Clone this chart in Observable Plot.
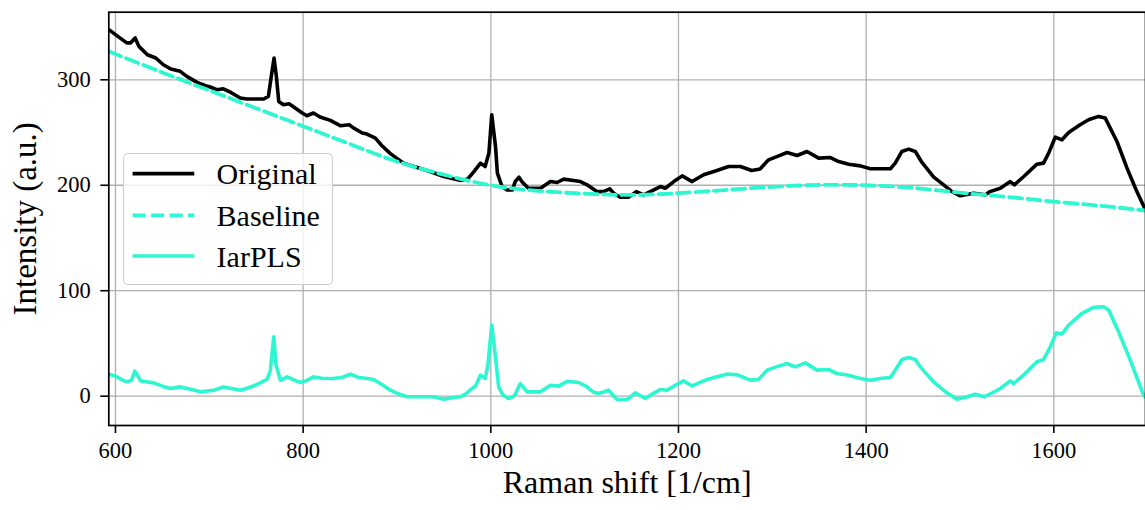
<!DOCTYPE html>
<html>
<head>
<meta charset="utf-8">
<script src="https://cdn.jsdelivr.net/npm/d3@7"></script>
<script src="https://cdn.jsdelivr.net/npm/@observablehq/plot@0.6"></script>
<style>
  html, body { margin: 0; padding: 0; background: white; }
  #wrap { position: relative; width: 1145px; height: 510px; overflow: hidden; }
  #legend { position: absolute; left: 122.7px; top: 152.7px; width: 210.6px; height: 132.3px;
            box-sizing: border-box; border: 1.3px solid #cccccc; border-radius: 5px;
            background: rgba(255,255,255,0.8); }
</style>
</head>
<body>
<div id="wrap"></div>
<script>
// ---- Data ----
const xTicks = [600, 800, 1000, 1200, 1400, 1600];
const yTicks = [0, 100, 200, 300];

const seriesNames = ["Original", "Baseline", "IarPLS"];
const seriesColors = ["#000000", "#2cf7d0", "#2cf7d0"];
const seriesDash = [null, "13,5.5", null];

const originalX = [592.9,600,612,616,621,625,634,643,651,659,669,676,687,696,701,708,715,723,733,740,758,763,766,769,771.5,774,779,785,790,799,804,811,818,829,840,849,854,863,868,877,884,893,907,918,932,950,968,975.5,982,989,994,998,1001,1005,1007,1012,1017,1023,1026,1030,1033,1040,1053,1063.5,1070.6,1077.7,1088,1095.5,1102.6,1113,1120,1126.7,1131,1138,1147,1155,1163,1170,1180.7,1186,1195,1204,1214.5,1226.8,1241,1253.5,1266,1278,1287,1296,1306.8,1315.7,1326.4,1337,1349.4,1362,1370.7,1381.4,1393.8,1404.5,1425.8,1431,1438,1445.3,1452.4,1459.5,1472,1482.6,1491.5,1500.4,1514.6,1527,1532,1543,1553.6,1558,1568,1582,1589,1594.5,1601.6,1608.7,1615.8,1628,1637,1647.7,1654.8,1667.3,1678,1688.5,1697.7];
const originalY = [347.6,342.8,335,335,339.7,331.7,323.8,320.7,314.3,310.2,308,303.2,297.6,294.4,293.2,290.6,291.5,288,282.7,281.8,281.8,284.3,303,320.7,303,279.5,276.3,277.3,274.2,268.5,265.9,268.5,264.7,261.5,256.4,257.4,254.2,249.5,248.5,244.7,237.5,230,221,217.8,214,208.3,204.5,206,213,221,217.8,230.7,266.9,236.8,211.5,198.8,195.6,195.6,203.5,207.7,203.5,197.2,197.2,203.5,202.6,205.8,204.5,203.5,200.4,194,194,196.6,192.5,188.7,188.7,194,190.9,194,198.8,197.2,203.5,208.9,203.5,209.9,214,217.8,217.8,214,215.5,224.1,227.9,231.1,228.2,232,225.7,226.3,222.5,220,218.4,215.6,215.6,221,232,234.3,232,221.6,207.7,200.4,194,190,192.5,190.9,194,197.2,203.5,200.4,208.3,220,221,230.5,245.7,243.1,250,257.4,262.1,265.3,263.7,241.5,216.2,194,176.6];

const baselineX = [592.9,650,700,750,800,850,900,950,1000,1050,1100,1150,1200,1250,1300,1350,1400,1450,1500,1550,1600,1650,1697.7];
const baselineY = [327,307,290,273,256,239,222.5,210,200,194.7,192,190.8,192.5,195.5,198.5,200.3,200,197.5,193,189,184.5,180.5,176];

const iarplsX = [592.9,600,606,612,617,620.6,627,634,641,650,658.6,669,680,690.6,704.7,715.4,725,733,742,751,761.6,765,768.7,771,775.8,783,790,797,804,811,820,832.6,842,850.4,858,866,875,884,893,902,910.8,925,939,950,960,967.6,973,978,984,989,994,997,1001,1004,1008.4,1013,1019,1025,1031.5,1035,1038.7,1053,1063.5,1072.4,1081.3,1093.7,1102.6,1109,1115,1125.6,1130,1134.6,1145.2,1154,1164.7,1172,1180.7,1187.8,1196,1205.5,1214.5,1230.5,1241,1251.8,1262.4,1276.6,1285.5,1294.4,1305,1315.7,1324.6,1335.2,1347.7,1360,1369,1379.6,1394,1404.5,1415,1425.8,1432,1438.2,1445.3,1452.4,1457.7,1471.9,1486,1496.7,1506,1516.3,1525.9,1535,1543,1553.6,1557,1567.8,1582,1589,1596.3,1602.7,1608.7,1615.8,1630,1642.5,1653,1658.5,1669,1681.5,1695.6,1697.7];
const iarplsY = [20.9,19,16,13.6,15,23.7,14.5,13.5,12.6,9.5,7.3,8.8,6.5,4.1,5.7,8.8,7,5.7,8,11.1,15.9,24,56.3,30,15,18.3,15.5,13,15,18.3,17,16.8,18,20.9,18,17,15.9,11,5.7,2,-0.6,-0.5,-0.6,-2.8,-1.2,-0.6,2,5.7,10,20,16.8,30,67.4,45,8.8,1,-2.2,0,12,8,4.1,4.1,10.4,9.5,14.2,13,8.8,4,2.5,5.7,1,-3.2,-3.2,3.2,-2.2,2,6.3,5.7,10,14.5,9.8,15.9,18.5,20.9,20.3,15.2,15.9,24.7,28,31,27.8,31.6,24.7,25.3,21.5,20,16.8,15.2,16.8,17.7,26,34.8,36.7,34.8,27.8,13.6,3.2,-2.8,-1,1.9,-0.6,3.5,7.3,14.5,12,20,32.6,34.8,46.8,60.1,58.9,67.4,78.5,84.2,84.8,81.7,61.1,34.2,1,-1];

const xDomain = [592.9, 1697.7];
const yDomain = [-27.8, 364.1];
const xLabel = "Raman shift [1/cm]";
const yLabel = "Intensity (a.u.)";

// ---- Build tables ----
const toRows = (xs, ys) => xs.map((x, i) => ({x, y: ys[i]}));
const original = toRows(originalX, originalY);
const baseline = toRows(baselineX, baselineY);
const iarpls = toRows(iarplsX, iarplsY);

const font = "'Liberation Serif', 'Times New Roman', serif";
const gridStyle = {stroke: "#b0b0b0", strokeOpacity: 1, strokeWidth: 1.3};

const chart = Plot.plot({
  width: 1145,
  height: 510,
  marginLeft: 108.3,
  marginRight: 0,
  marginTop: 11.7,
  marginBottom: 85,
  style: {fontFamily: font, fontSize: "22.5px", color: "black", background: "white", overflow: "visible"},
  x: {domain: xDomain},
  y: {domain: yDomain},
  marks: [
    Plot.gridX(xTicks, gridStyle),
    Plot.gridY(yTicks, gridStyle),
    Plot.line(original, {x: "x", y: "y", stroke: seriesColors[0], strokeWidth: 3.6, strokeLinejoin: "round", clip: true}),
    Plot.line(baseline, {x: "x", y: "y", stroke: seriesColors[1], strokeWidth: 3.8, strokeDasharray: seriesDash[1], curve: "natural", clip: true}),
    Plot.line(iarpls, {x: "x", y: "y", stroke: seriesColors[2], strokeWidth: 3.6, strokeLinejoin: "round", clip: true}),
    Plot.frame({stroke: "black", strokeWidth: 1.7}),
    Plot.axisX(xTicks, {tickSize: 8, tickPadding: 9, strokeWidth: 1.6, tickFormat: d => String(d), fontSize: 22.5, label: null}),
    Plot.axisY(yTicks, {tickSize: 8, tickPadding: 10, strokeWidth: 1.6, tickFormat: d => String(d), fontSize: 22.5, label: null}),
    Plot.text([xLabel], {frameAnchor: "bottom", dy: 67, fontSize: 32, fill: "black", textAnchor: "middle"}),
    Plot.text([yLabel], {frameAnchor: "left", dx: -83, rotate: -90, fontSize: 33, fill: "black", textAnchor: "middle"})
  ]
});

const wrap = document.getElementById("wrap");
wrap.appendChild(chart);

// ---- Legend (overlay inside the axes, upper-left) ----
const legend = d3.select(wrap).append("div").attr("id", "legend");
const lsvg = legend.append("svg").attr("width", 210).attr("height", 132)
  .style("position", "absolute").style("left", "-1.3px").style("top", "-1.3px");
const rowY = [21.6, 63.3, 104];
seriesNames.forEach((name, i) => {
  lsvg.append("line")
    .attr("x1", 10.6).attr("x2", 72.3).attr("y1", rowY[i]).attr("y2", rowY[i])
    .attr("stroke", seriesColors[i]).attr("stroke-width", i === 1 ? 3.8 : 3.6)
    .attr("stroke-dasharray", seriesDash[i]);
  lsvg.append("text")
    .attr("x", 94.6).attr("y", rowY[i] + 10.5)
    .attr("font-family", font).attr("font-size", 30).attr("fill", "black")
    .text(name);
});
</script>
</body>
</html>
